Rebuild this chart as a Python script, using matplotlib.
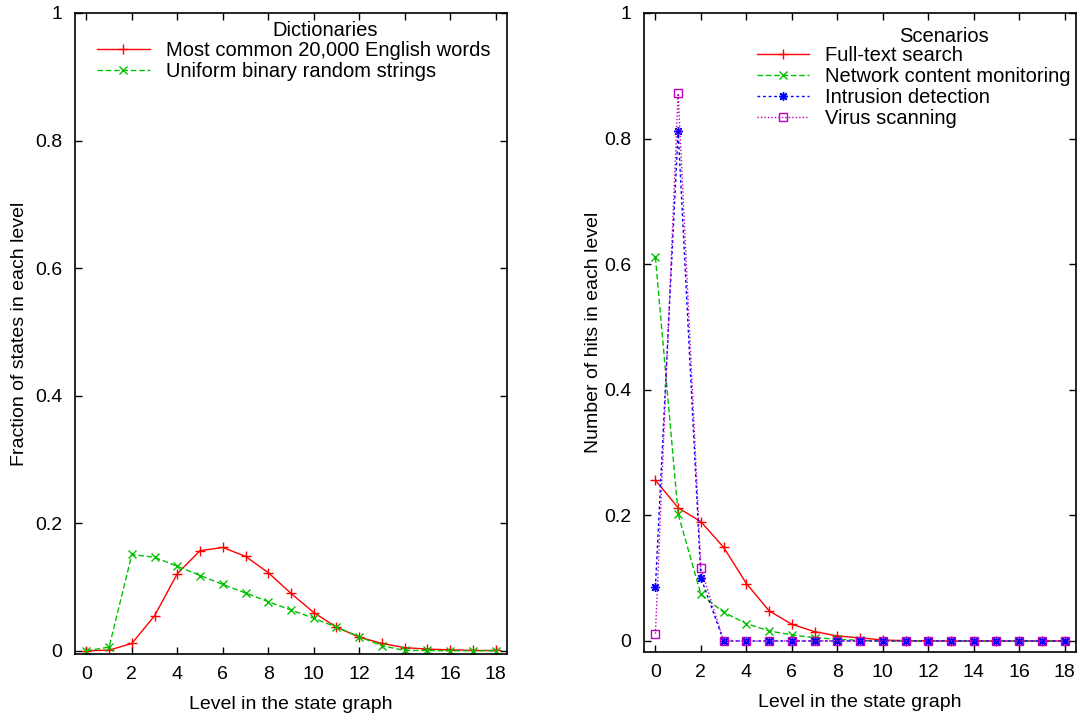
import matplotlib
matplotlib.use('Agg')

import matplotlib.pyplot as plt
import numpy as np

plt.rcParams['font.family'] = ['Liberation Sans', 'DejaVu Sans']

levels = list(range(19))

# left panel: fraction of states in each level
english_words = [0.0, 0.001, 0.0115, 0.055, 0.121, 0.157, 0.162, 0.148, 0.1225, 0.09,
                 0.06, 0.037, 0.0215, 0.0115, 0.005, 0.0026, 0.0016, 0.0005, 0.0005]
binary_strings = [0.0, 0.0058, 0.151, 0.1466, 0.1325, 0.118, 0.104, 0.0906, 0.077, 0.064,
                  0.051, 0.037, 0.022, 0.008, 0.0005, 0.0005, 0.0, 0.0, 0.0]

# right panel: number of hits in each level
full_text = [0.256, 0.212, 0.190, 0.149, 0.0915, 0.048, 0.0266, 0.0149, 0.008, 0.005,
             0.0016, 0.0005, 0.0003, 0.0, 0.0, 0.0, 0.0, 0.0, 0.0]
network = [0.611, 0.202, 0.0743, 0.0457, 0.0277, 0.016, 0.0096, 0.0053, 0.0027, 0.001,
           0.0, 0.0, 0.0, 0.0, 0.0, 0.0, 0.0, 0.0, 0.0]
intrusion = [0.086, 0.812, 0.101] + [0.0] * 16
virus = [0.0116, 0.872, 0.116] + [0.0] * 16

RED = '#ff0000'
GREEN = '#00c000'
BLUE = '#0000ff'
MAGENTA = '#c000c0'
FS = 14
LEG_FS = 14.5

fig = plt.figure(figsize=(10.81, 7.17), dpi=100)
ax1 = fig.add_axes([0.0694, 0.0879, 0.3996, 0.894])
ax2 = fig.add_axes([0.5958, 0.0907, 0.3996, 0.8912])


def style_axes(ax, ylow, ylabel, ylabelpad):
    ax.set_xlim(-0.5, 18.5)
    ax.set_ylim(ylow, 1.0)
    ax.set_xticks(range(0, 19, 2))
    ax.set_yticks([0, 0.2, 0.4, 0.6, 0.8, 1.0])
    ax.set_yticklabels(['0', '0.2', '0.4', '0.6', '0.8', '1'])
    ax.tick_params(direction='in', top=True, right=True, labelsize=FS, length=5, width=1)
    ax.tick_params(axis='y', pad=9)
    ax.tick_params(axis='x', pad=9)
    ax.set_xlabel('Level in the state graph', fontsize=FS, labelpad=9)
    ax.set_ylabel(ylabel, fontsize=FS, labelpad=ylabelpad)
    for sp in ax.spines.values():
        sp.set_linewidth(1.2)


def add_legend(ax, anchor):
    return ax.legend(loc='upper right', bbox_to_anchor=anchor, frameon=False, fontsize=LEG_FS,
                     handlelength=2.6, handletextpad=0.8, labelspacing=0.1,
                     borderpad=0, borderaxespad=0)


# left panel
ax1.plot(levels, english_words, color=RED, lw=1, marker='+', ms=6.5, mew=1,
         label='Most common 20,000 English words')
ax1.plot(levels, binary_strings, color=GREEN, lw=1, dashes=(4, 2), marker='x', ms=5.5, mew=1,
         label='Uniform binary random strings')
style_axes(ax1, -0.005, 'Fraction of states in each level', 5)
add_legend(ax1, (0.961, 0.956))
ax1.text(0.58, 0.972, 'Dictionaries', transform=ax1.transAxes, ha='center', va='center',
         fontsize=LEG_FS)

# right panel
ax2.plot(levels, full_text, color=RED, lw=1, marker='+', ms=6.5, mew=1, label='Full-text search')
ax2.plot(levels, network, color=GREEN, lw=1, dashes=(4, 2), marker='x', ms=5.5, mew=1,
         label='Network content monitoring')
ax2.plot(levels, intrusion, color=BLUE, lw=1, dashes=(2, 2), marker=(8, 2, 0), ms=6.5, mew=1,
         label='Intrusion detection')
ax2.plot(levels, virus, color=MAGENTA, lw=1, dashes=(1, 1.5), marker='s', ms=5.5, mew=1,
         mfc='none', label='Virus scanning')
style_axes(ax2, -0.0175, 'Number of hits in each level', 2)
add_legend(ax2, (0.988, 0.948))
ax2.text(0.694, 0.963, 'Scenarios', transform=ax2.transAxes, ha='center', va='center',
         fontsize=LEG_FS)

fig.savefig('out.png', dpi=100)
